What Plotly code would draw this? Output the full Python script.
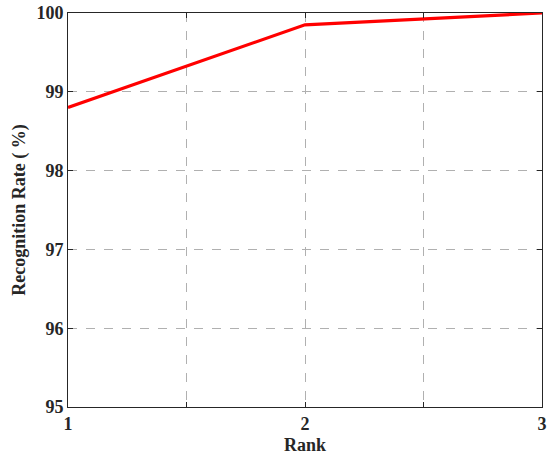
import plotly.graph_objects as go

rank = [1, 2, 3]
recognition_rate = [98.8, 99.85, 100.0]

x_tickvals = [1, 1.5, 2, 2.5, 3]
x_ticktext = ["<b>1</b>", "", "<b>2</b>", "", "<b>3</b>"]
y_tickvals = [95, 96, 97, 98, 99, 100]
y_ticktext = ["<b>%d</b>" % v for v in y_tickvals]

font_family = "Liberation Serif"
label_font = dict(family=font_family, size=18, color="#262626")

fig = go.Figure()
fig.add_trace(go.Scatter(
    x=rank, y=recognition_rate, mode="lines",
    line=dict(color="#ff0000", width=3.2),
    cliponaxis=False, showlegend=False,
))

axis_common = dict(
    showline=True, linecolor="#262626", linewidth=1, mirror="ticks",
    ticks="inside", ticklen=5, tickcolor="#262626",
    showgrid=True, gridcolor="#b0b0b0", griddash="dash", gridwidth=1,
    zeroline=False, ticklabeloverflow="allow",
    tickfont=label_font,
)

fig.update_xaxes(
    range=[1, 3], tickvals=x_tickvals, ticktext=x_ticktext,
    title=dict(text="<b>Rank</b>", standoff=5, font=label_font),
    **axis_common,
)
fig.update_yaxes(
    range=[95, 100], tickvals=y_tickvals, ticktext=y_ticktext,
    title=dict(text="<b>Recognition Rate ( %)</b>", standoff=6, font=label_font),
    **axis_common,
)

fig.update_layout(
    width=547, height=457,
    margin=dict(l=68, r=5, t=13, b=50, autoexpand=False),
    paper_bgcolor="white", plot_bgcolor="white",
    font=dict(family=font_family),
)

fig.write_html("out.html")
